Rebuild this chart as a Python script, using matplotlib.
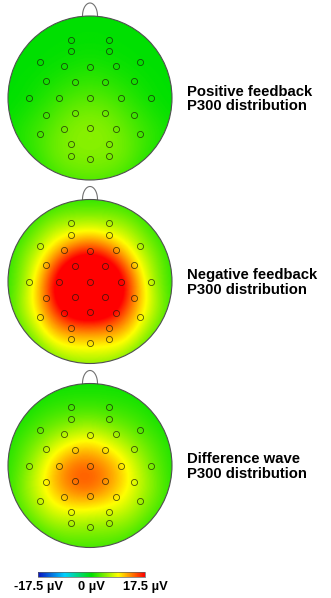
import numpy as np
import matplotlib
matplotlib.use("Agg")
import matplotlib.pyplot as plt
from matplotlib.colors import LinearSegmentedColormap
from matplotlib.patches import Circle

# electrode layout (unit head radius, y points to the nose)
channels = ["FP1", "FP2", "AF3", "AF4",
            "F7", "F3", "Fz", "F4", "F8",
            "FC5", "FC1", "FC2", "FC6",
            "T7", "C3", "Cz", "C4", "T8",
            "CP5", "CP1", "CP2", "CP6",
            "P7", "P3", "Pz", "P4", "P8",
            "PO3", "PO4", "O1", "Oz", "O2"]
elec_x = [-0.234, 0.234, -0.234, 0.234,
          -0.606, -0.313, 0.0, 0.313, 0.606,
          -0.537, -0.178, 0.178, 0.537,
          -0.749, -0.373, 0.0, 0.373, 0.749,
          -0.537, -0.178, 0.178, 0.537,
          -0.606, -0.313, 0.0, 0.313, 0.606,
          -0.234, 0.234, -0.234, 0.0, 0.234]
elec_y = [0.712, 0.712, 0.573, 0.573,
          0.439, 0.39, 0.374, 0.39, 0.439,
          0.204, 0.191, 0.191, 0.204,
          0.0, 0.0, 0.0, 0.0, 0.0,
          -0.204, -0.187, -0.187, -0.204,
          -0.439, -0.382, -0.366, -0.382, -0.439,
          -0.567, -0.567, -0.706, -0.747, -0.706]

# P300 amplitude per electrode (uV)
positive = [0.0, 0.0, -0.5, -0.5,
            -0.5, 0.5, 1.5, 0.5, -0.5,
            0.5, 2.0, 2.0, 0.5,
            -0.5, 2.5, 4.0, 2.5, -0.5,
            2.0, 5.0, 5.0, 2.0,
            2.5, 5.5, 7.0, 5.5, 2.5,
            6.5, 6.5, 4.5, 5.5, 4.5]
negative = [2.0, 2.0, 9.0, 9.0,
            3.0, 16.0, 22.0, 15.0, 3.0,
            11.0, 30.0, 29.0, 10.0,
            2.0, 31.0, 35.0, 30.0, 2.0,
            15.0, 35.0, 34.0, 14.0,
            6.0, 26.0, 33.0, 25.0, 6.0,
            15.0, 15.0, 8.0, 9.0, 8.0]
difference = [0.5, 0.5, 2.0, 2.0,
              1.0, 7.0, 10.0, 6.0, 1.0,
              7.0, 15.0, 13.0, 6.0,
              2.0, 18.0, 20.0, 15.0, 2.0,
              12.0, 20.0, 18.0, 10.0,
              5.0, 17.0, 19.0, 14.0, 4.0,
              10.0, 9.0, 3.0, 4.0, 3.0]

titles = ["Positive feedback\nP300 distribution",
          "Negative feedback\nP300 distribution",
          "Difference wave\nP300 distribution"]
maps = [positive, negative, difference]
vlim = 17.5
tick_vals = [-17.5, 0, 17.5]
tick_labels = ["-17.5 \u00b5V", "0 \u00b5V", "17.5 \u00b5V"]

topo = LinearSegmentedColormap.from_list(
    "topo", [(0.0, "#0a14c0"), (0.25, "#00d0ff"), (0.5, "#00e000"),
             (0.75, "#ffff00"), (1.0, "#ff0000")])

W, H = 331, 598
fig = plt.figure(figsize=(W / 100, H / 100), dpi=100)
ax = fig.add_axes([0, 0, 1, 1])
ax.set_xlim(0, W)
ax.set_ylim(H, 0)
ax.axis("off")

ex = np.array(elec_x)
ey = np.array(elec_y)

# smooth the electrode values over the scalp (kernel average, pulled to 0 at rim)
n = 240
gx, gy = np.meshgrid(np.linspace(-1, 1, n), np.linspace(1, -1, n))
sig = 0.22
wts = np.exp(-((gx[..., None] - ex) ** 2 + (gy[..., None] - ey) ** 2) / (2 * sig ** 2))

cx = 90
cys = [98, 281.5, 465.5]
r = 82
im = None
for vals, cy, title in zip(maps, cys, titles):
    v = np.array(vals)
    grid = (wts * v).sum(-1) / (wts.sum(-1) + 1.0)
    im = ax.imshow(grid, cmap=topo, vmin=-vlim, vmax=vlim, origin="upper",
                   extent=(cx - r, cx + r, cy + r, cy - r), interpolation="bilinear",
                   zorder=1)
    clip = Circle((cx, cy), r, transform=ax.transData)
    im.set_clip_path(clip)
    ax.add_patch(Circle((cx, cy), r, fill=False, ec="#505050", lw=0.8, zorder=3))
    # nose
    t = np.linspace(-np.pi / 2, np.pi / 2, 60)
    ax.plot(cx + 7.5 * np.sin(t), cy - r - 13 * np.cos(t), color="#707070", lw=0.8, zorder=0)
    ax.plot(cx + r * ex, cy - r * ey, "o", ms=4.4, mfc="none", mec=(0.1, 0.1, 0.05, 0.75),
            mew=0.6, zorder=4)
    ax.text(187, cy + 1, title, fontsize=10.7, fontweight="bold", family="Liberation Sans",
            va="center", ha="left", linespacing=1.05)

cax = fig.add_axes([38 / W, 1 - 577 / H, 107 / W, 5.5 / H])
cb = fig.colorbar(im, cax=cax, orientation="horizontal", ticks=tick_vals)
cb.ax.set_xticklabels(tick_labels)
cb.ax.tick_params(length=0, pad=3, labelsize=9.3)
for lab in cb.ax.get_xticklabels():
    lab.set_fontweight("bold")
    lab.set_family("Liberation Sans")
cb.outline.set_edgecolor("#606060")
cb.outline.set_linewidth(0.5)

fig.savefig("out.png", dpi=100, facecolor="white")
